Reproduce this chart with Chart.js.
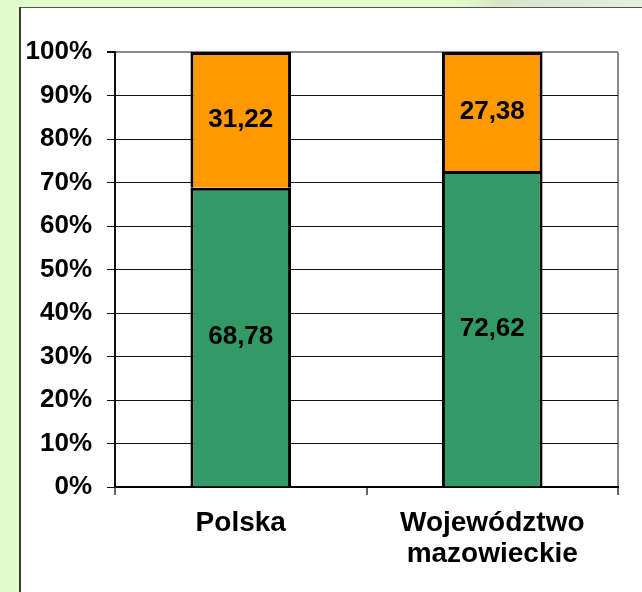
<!DOCTYPE html>
<html>
<head>
<meta charset="utf-8">
<script src="https://cdn.jsdelivr.net/npm/chart.js@4/dist/chart.umd.min.js"></script>
<style>
  html, body { margin: 0; padding: 0; }
  body {
    width: 642px; height: 592px; overflow: hidden; position: relative;
    background: #e1fbcb;
  }
  #topstrip {
    position: absolute; left: 0; top: 0; width: 642px; height: 8px;
    background: linear-gradient(to right, #e1fbcb 0px, #e1fbcb 460px, #d6e6c6 500px, #dfe9d4 560px, #e6eedd 642px);
  }
  #panel {
    position: absolute; left: 19px; top: 7px; width: 640px; height: 600px;
    background: #ffffff;
    border-left: 2px solid #3a3a3a;
    border-top: 1px solid #555555;
  }
  #wrap { position: absolute; left: 0; top: 0; width: 642px; height: 592px; }
</style>
</head>
<body>
<div id="topstrip"></div>
<div id="panel"></div>
<div id="wrap"><canvas id="c" width="642" height="592"></canvas></div>
<script>
const categories = [["Polska"], ["Województwo", "mazowieckie"]];
const greenValues = [68.78, 72.62];
const orangeValues = [31.22, 27.38];
const yTicks = [0, 10, 20, 30, 40, 50, 60, 70, 80, 90, 100];

const FONT = "'Liberation Sans', Arial, sans-serif";

const labelPlugin = {
  id: 'barLabels',
  afterDatasetsDraw(chart) {
    const ctx = chart.ctx;
    ctx.save();
    ctx.font = "bold 26px " + FONT;
    ctx.fillStyle = '#000';
    ctx.textAlign = 'center';
    ctx.textBaseline = 'middle';
    chart.data.datasets.forEach((ds, di) => {
      const meta = chart.getDatasetMeta(di);
      meta.data.forEach((el, i) => {
        const yMid = (el.y + el.base) / 2;
        const txt = ds.data[i].toFixed(2).replace('.', ',');
        ctx.fillText(txt, el.x, yMid);
      });
    });
    ctx.restore();
  }
};

new Chart(document.getElementById('c'), {
  type: 'bar',
  data: {
    labels: categories,
    datasets: [
      { label: 'a', data: greenValues, backgroundColor: '#339966', borderColor: '#000', borderWidth: 3 },
      { label: 'b', data: orangeValues, backgroundColor: '#ff9900', borderColor: '#000', borderWidth: 3 }
    ]
  },
  options: {
    responsive: false,
    animation: false,
    devicePixelRatio: 1,
    layout: { padding: { left: 0, top: 52, right: 24, bottom: 0 } },
    plugins: { legend: { display: false }, tooltip: { enabled: false } },
    datasets: { bar: { barPercentage: 1.0, categoryPercentage: 0.4 } },
    scales: {
      x: {
        stacked: true,
        afterFit(s) { s.height = 105; },
        border: { display: true, color: '#000', width: 2 },
        grid: {
          offset: true,
          drawOnChartArea: true,
          color: (c) => (c.type !== 'tick') ? '#8a8a8a' : 'rgba(0,0,0,0)',
          lineWidth: 2,
          tickColor: '#333',
          tickLength: 8,
          tickWidth: 1.5
        },
        ticks: {
          color: '#000',
          font: { family: FONT, size: 28, weight: 'bold', lineHeight: 1.1 },
          padding: 13,
          maxRotation: 0
        }
      },
      y: {
        stacked: true,
        min: 0, max: 100,
        afterFit(s) { s.width = 115; },
        afterBuildTicks(s) { s.ticks = yTicks.map(v => ({ value: v })); },
        border: { display: true, color: '#111', width: 2 },
        grid: {
          color: (c) => (c.tick && c.tick.value === 100) ? '#8a8a8a' : '#111',
          lineWidth: (c) => (c.tick && c.tick.value === 100) ? 2 : 1,
          tickColor: '#111',
          tickLength: 8
        },
        ticks: {
          color: '#000',
          font: { family: FONT, size: 26, weight: 'bold' },
          padding: 15,
          callback: (v) => v + '%'
        }
      }
    }
  },
  plugins: [labelPlugin]
});
</script>
</body>
</html>
